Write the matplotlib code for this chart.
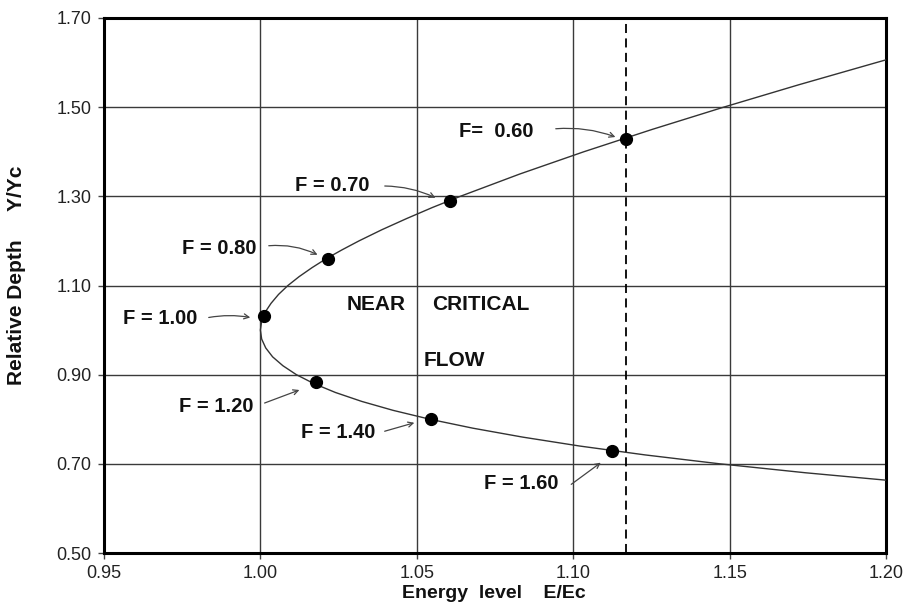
import matplotlib
matplotlib.use("Agg")
import matplotlib.pyplot as plt
from matplotlib.ticker import FormatStrFormatter

plt.rcParams["font.family"] = ["Liberation Sans", "DejaVu Sans"]

# Specific energy curve (relative depth Y/Yc vs energy E/Ec)
depth = [0.66, 0.68, 0.70, 0.72, 0.74, 0.76, 0.78, 0.80, 0.82, 0.84, 0.86,
         0.88, 0.90, 0.92, 0.94, 0.96, 0.98, 1.00, 1.02, 1.04, 1.06, 1.08,
         1.10, 1.12, 1.14, 1.16, 1.18, 1.20, 1.225, 1.25, 1.275, 1.30,
         1.35, 1.40, 1.45, 1.50, 1.55, 1.60, 1.62]
energy = [1.2052, 1.1742, 1.1469, 1.1230, 1.1020, 1.0838, 1.0679, 1.0542,
          1.0424, 1.0324, 1.0240, 1.0171, 1.0115, 1.0072, 1.0039, 1.0017,
          1.0004, 1.0000, 1.0004, 1.0015, 1.0034, 1.0058, 1.0088, 1.0124,
          1.0165, 1.0210, 1.0261, 1.0315, 1.0388, 1.0467, 1.0550, 1.0639,
          1.0829, 1.1034, 1.1252, 1.1481, 1.1720, 1.1969, 1.2070]

# Froude number points
froude_labels = ["F=  0.60", "F = 0.70", "F = 0.80", "F = 1.00",
                 "F = 1.20", "F = 1.40", "F = 1.60"]
marker_energy = [1.1168, 1.0605, 1.0215, 1.0010, 1.0178, 1.0545, 1.1124]
marker_depth = [1.428, 1.290, 1.159, 1.031, 0.883, 0.800, 0.729]

dashed_energy = 1.117

fig = plt.figure(figsize=(9.06, 6.12), dpi=100)
ax = fig.add_axes([104 / 906, 1 - 553 / 612, 782 / 906, 535 / 612])

ax.set_xlim(0.95, 1.20)
ax.set_ylim(0.50, 1.70)
ax.set_xticks([0.95, 1.00, 1.05, 1.10, 1.15, 1.20])
ax.set_yticks([0.50, 0.70, 0.90, 1.10, 1.30, 1.50, 1.70])
ax.xaxis.set_major_formatter(FormatStrFormatter("%.2f"))
ax.yaxis.set_major_formatter(FormatStrFormatter("%.2f"))
ax.tick_params(direction="out", length=4, width=1, labelsize=13,
               labelcolor="#222222", color="#444444", pad=5)

ax.grid(True, color="#3a3a3a", linewidth=1.0)
ax.set_axisbelow(True)
for sp in ax.spines.values():
    sp.set_linewidth(2.2)
    sp.set_color("black")

ax.plot(energy, depth, color="#333333", linewidth=1.0, zorder=3)
ax.axvline(dashed_energy, color="black", linewidth=1.3,
           linestyle=(0, (5, 3)), zorder=3)
ax.plot(marker_energy, marker_depth, "o", color="black", markersize=8.5,
        zorder=4)

# label centres (data units)
label_x = [1.0753, 1.0229, 0.9868, 0.9679, 0.9858, 1.0248, 1.0833]
label_y = [1.4443, 1.3254, 1.1819, 1.0249, 0.8275, 0.7714, 0.6570]
for lab, x, y in zip(froude_labels, label_x, label_y):
    ax.text(x, y, lab, ha="center", va="center", fontsize=14.5,
            fontweight="bold", color="#111111", zorder=5)

# arrows: tail -> head in figure pixels (from top-left)
arrows = [((553, 129), (618, 138)), ((382, 186), (438, 199)),
          ((266, 246), (320, 256)), ((206, 318), (253, 318)),
          ((262, 404), (302, 389)), ((382, 432), (417, 422)),
          ((569, 486), (603, 461))]
rads = [-0.12, -0.12, -0.15, -0.1, 0.0, 0.0, 0.0]
for ((x0, y0), (x1, y1)), r in zip(arrows, rads):
    ax.annotate("", xy=(x1, 612 - y1), xytext=(x0, 612 - y0),
                xycoords="figure pixels", textcoords="figure pixels",
                arrowprops=dict(arrowstyle="->", color="#444444", lw=0.9,
                                mutation_scale=9,
                                connectionstyle=f"arc3,rad={r}"),
                zorder=5)

fig.text(376 / 906, 1 - 304 / 612, "NEAR", ha="center", va="center",
         fontsize=15, fontweight="bold", color="#111111")
fig.text(481 / 906, 1 - 304 / 612, "CRITICAL", ha="center", va="center",
         fontsize=15, fontweight="bold", color="#111111")
fig.text(454 / 906, 1 - 360 / 612, "FLOW", ha="center", va="center",
         fontsize=15, fontweight="bold", color="#111111")

fig.text(494 / 906, 1 - 593 / 612, "Energy  level    E/Ec", ha="center",
         va="center", fontsize=14, fontweight="bold", color="#111111")
fig.text(17 / 906, 1 - 275 / 612, "Relative Depth     Y/Yc", ha="center",
         va="center", rotation=90, fontsize=15, fontweight="bold",
         color="#111111")

fig.savefig("out.png", dpi=100)
